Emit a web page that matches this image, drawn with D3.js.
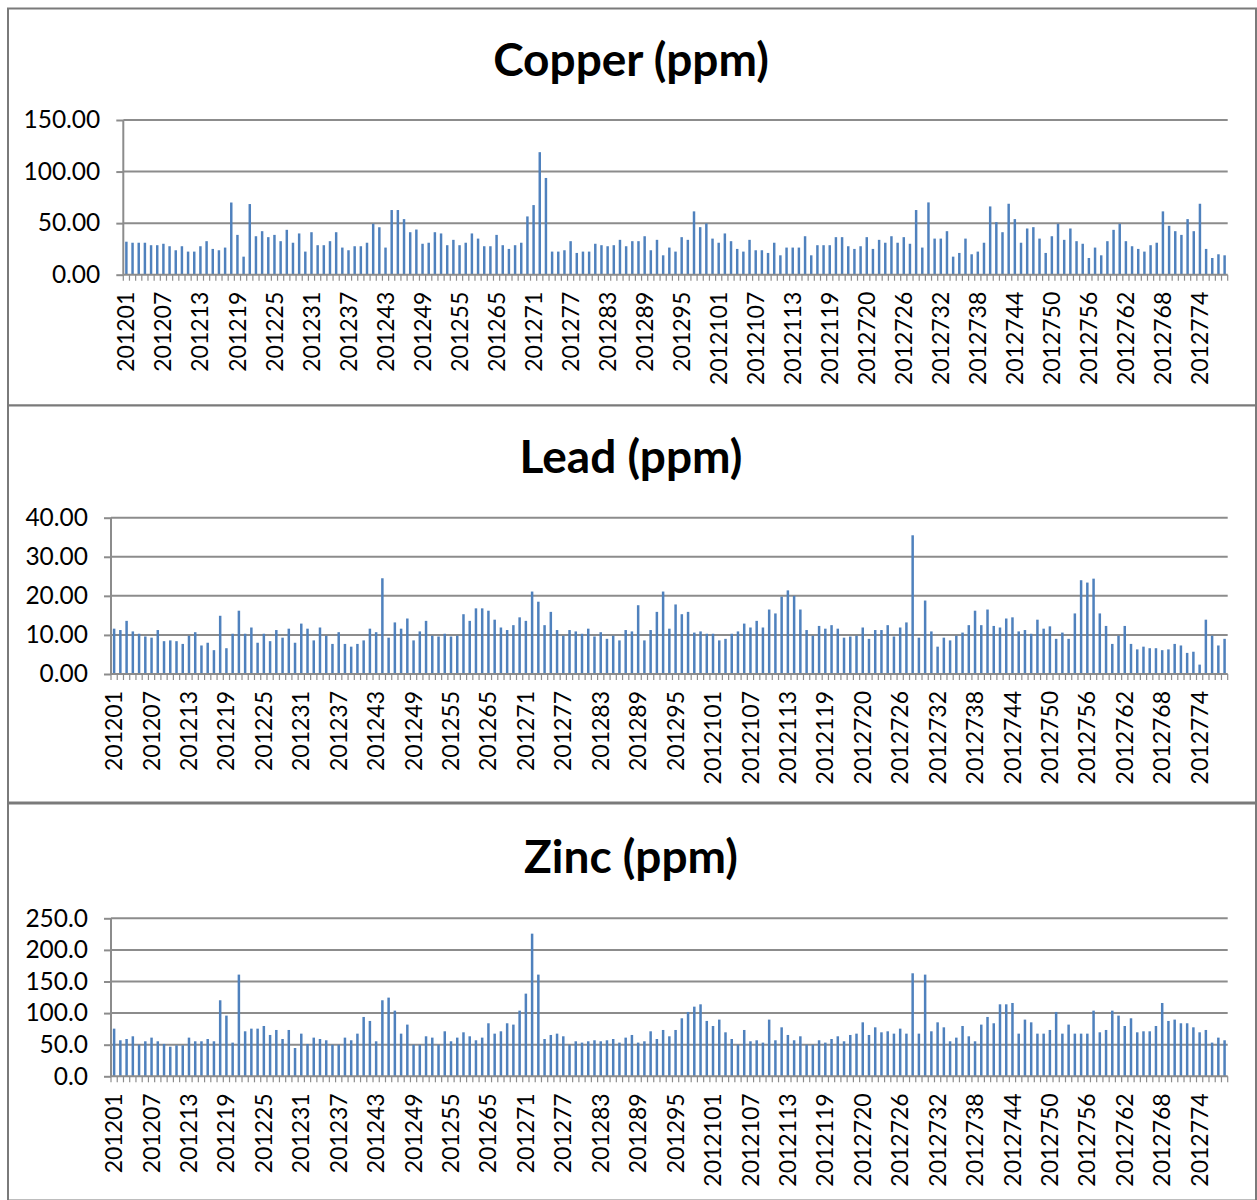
<!DOCTYPE html>
<html><head><meta charset="utf-8">
<script src="https://cdn.jsdelivr.net/npm/d3@7"></script>
<style>body{margin:0;background:#fff} svg{display:block}</style>
</head><body><svg id="c" width="1257" height="1200"></svg>
<script>
const categories = [
"201201","201202","201203","201204","201205","201206","201207","201208","201209","201210",
"201211","201212","201213","201214","201215","201216","201217","201218","201219","201220",
"201221","201222","201223","201224","201225","201226","201227","201228","201229","201230",
"201231","201232","201233","201234","201235","201236","201237","201238","201239","201240",
"201241","201242","201243","201244","201245","201246","201247","201248","201249","201250",
"201251","201252","201253","201254","201255","201256","201257","201258","201259","201260",
"201265","201266","201267","201268","201269","201270","201271","201272","201273","201274",
"201275","201276","201277","201278","201279","201280","201281","201282","201283","201284",
"201285","201286","201287","201288","201289","201290","201291","201292","201293","201294",
"201295","201296","201297","201298","201299","2012100","2012101","2012102","2012103","2012104",
"2012105","2012106","2012107","2012108","2012109","2012110","2012111","2012112","2012113","2012114",
"2012115","2012116","2012117","2012118","2012119","2012120","2012121","2012122","2012123","2012124",
"2012720","2012721","2012722","2012723","2012724","2012725","2012726","2012727","2012728","2012729",
"2012730","2012731","2012732","2012733","2012734","2012735","2012736","2012737","2012738","2012739",
"2012740","2012741","2012742","2012743","2012744","2012745","2012746","2012747","2012748","2012749",
"2012750","2012751","2012752","2012753","2012754","2012755","2012756","2012757","2012758","2012759",
"2012760","2012761","2012762","2012763","2012764","2012765","2012766","2012767","2012768","2012769",
"2012770","2012771","2012772","2012773","2012774","2012775","2012776","2012777","2012778"];

const copper = [
32,31,31,31,28.6,28.6,30,27.6,23.7,27.6,22.4,22.4,27.6,32.5,25,23.7,26.3,70,38.6,17.5,
68.5,37.3,42.2,36.4,38.6,32.5,43.5,31,40,22.4,41.2,28.6,28.6,32.5,41.2,26.3,23.7,27.6,27.6,31,
49.4,46,26.3,62.7,62.7,
53.9,41.2,43.8,30,31,41.2,40,28.6,33.8,28.6,31,40,35,27.6,27.6,38.6,28.6,25,28.6,31,
56.5,67.5,118.8,93.8,22.4,22.4,23.7,32.5,21.1,22.4,22.4,30,28.6,27.6,28.6,33.8,27.6,32.5,32.5,37.3,
23.7,33.8,18.8,26.3,22.4,36.4,
33.8,61.4,46.1,49.7,35,31,40,32.5,25,22.4,33.8,23.7,23.7,21.1,31,18.8,26.3,26.3,26.3,37.3,
18.8,28.6,28.6,28.6,36.4,36.4,27.6,25,27.6,36.4,25,33.8,31,37.3,31,36.4,30,62.7,26.3,70.1,
35,35,42.2,17.5,21.1,
35,19.8,22.4,31,66.2,51,41.2,68.8,53.9,31,44.8,46.1,35,21.1,37.3,49.4,33.8,44.8,32.5,30,
16.2,26.3,18.8,32.5,43.5,49.4,32.5,27.6,25,22.4,28.6,31,61.4,47.4,42.2,38.6,53.9,42.2,68.8,25,
16.2,19.8,18.8];

const lead = [
11.6,11.25,13.6,10.9,10.3,9.6,9.3,11.25,8.4,8.6,8.4,7.7,9.8,10.7,7.3,8.0,6.1,14.9,6.6,10.3,
16.2,10.3,11.9,8.0,10.3,8.4,11.25,9.3,11.6,8.0,12.9,11.6,8.6,11.9,9.8,7.7,10.7,7.7,7.0,7.7,
8.6,11.6,10.7,24.5,9.3,13.2,11.6,
14.2,8.6,10.9,13.6,9.8,9.6,10.3,9.6,9.8,15.3,13.6,16.8,16.8,16.2,13.9,11.9,11.25,12.5,14.5,13.6,
21.1,18.5,12.5,15.9,11.25,9.8,11.25,10.9,10.3,11.6,9.6,10.7,9.0,9.8,8.6,11.25,10.9,17.6,8.6,11.25,
15.9,21.1,11.6,17.8,
15.3,15.9,10.6,10.9,10.3,10.3,8.6,9.0,10.3,10.9,12.9,11.9,13.6,11.9,16.5,15.5,19.8,21.4,20.0,16.5,
11.25,9.8,12.3,11.6,12.5,11.6,9.3,9.6,9.8,11.9,9.0,11.25,11.25,12.5,9.6,11.9,13.2,35.5,9.3,18.8,
10.9,7.0,9.3,8.6,9.8,
10.6,12.5,16.2,12.5,16.5,12.3,11.9,14.2,14.5,10.9,11.25,10.3,13.9,11.6,12.2,9.0,10.6,9.0,15.5,24.0,
23.4,24.4,15.5,12.3,7.7,9.8,12.3,7.7,6.3,7.0,6.6,6.6,6.1,6.3,7.7,7.3,5.4,5.7,2.4,13.9,
9.8,7.3,9.0];

const zinc = [
75.4,57,59,63.3,50,55.4,61.2,55.4,51.2,46.9,49,49,61.2,55.4,55.4,59,55.4,120.3,96,53.3,
160.9,71.2,75.4,75.4,79.6,65.4,73.3,59,73.3,44.8,67.5,51.2,61.2,59,57,50,50,61.2,57,67.5,
93.9,87.6,55.4,120.3,124.5,103.9,67.5,
81.8,50,50,63.3,61.2,50,71.2,55.4,61.2,69.6,63.3,57,61.2,83.9,67.5,71.2,83.9,81.8,103.9,130.8,
225.7,160.9,59,65.4,67.5,63.3,50,55.4,53.3,55.4,57,55.4,57,59,53.3,61.2,65.4,53.3,55.4,71.2,
59,73.3,63.3,73.3,
91.8,101.8,110.2,113.9,87.6,79.6,89.7,69.6,59,50,73.3,55.4,57,53.3,89.7,57,77.5,65.4,57,63.3,
50,50,57,53.3,59,63.3,55.4,65.4,67.5,85.4,65.4,77.5,69.6,71.2,67.5,75.4,67.5,163,67.5,160.9,
71.2,85.4,77.5,55.4,61.2,
79.6,63.3,55.4,81.8,93.9,83.9,113.9,113.9,116,67.5,89.7,85.4,67.5,67.5,73.3,101.8,67.5,81.8,67.5,67.5,
67.5,103.9,69.6,73.3,103.9,96,79.6,91.8,69.6,71.2,71.2,79.6,116,87.6,89.7,83.9,83.9,77.5,69.6,73.3,
53.3,61.2,57];

const titles = ["Copper (ppm)", "Lead (ppm)", "Zinc (ppm)"];
const copperTicks = [0, 50, 100, 150];
const leadTicks = [0, 10, 20, 30, 40];
const zincTicks = [0, 50, 100, 150, 200, 250];
const labelEvery = 6;

const svg = d3.select("#c");
const FONT = "Lato, 'Open Sans', sans-serif";
const BAR = "#4F81BD";
const GRID = "#8c8c8c";

const panels = [
  {title: titles[0], data: copper, ticks: copperTicks, fmt: d3.format(".2f"), top: 8,   x0: 123.3, x1: 1227.7, yTop: 120,   yZero: 274.7,  titleY: 76},
  {title: titles[1], data: lead,   ticks: leadTicks,   fmt: d3.format(".2f"), top: 405, x0: 111,   x1: 1227.7, yTop: 517.7, yZero: 674,    titleY: 473},
  {title: titles[2], data: zinc,   ticks: zincTicks,   fmt: d3.format(".1f"), top: 803, x0: 111,   x1: 1227.7, yTop: 918.3, yZero: 1076.3, titleY: 873}
];

// panel borders
panels.forEach(p => {
  svg.append("rect").attr("x", 8).attr("y", p.top + 0.5).attr("width", 1248).attr("height", 397)
    .attr("fill", "#fff").attr("stroke", "#7a7a7a").attr("stroke-width", 2);
});

panels.forEach(p => {
  const g = svg.append("g");
  const xb = d3.scaleBand().domain(categories).range([p.x0, p.x1]);
  const y = d3.scaleLinear().domain([0, d3.max(p.ticks)]).range([p.yZero, p.yTop]);

  // gridlines + y ticks
  const ya = g.append("g").attr("transform", `translate(${p.x0},0)`)
    .call(d3.axisLeft(y).tickValues(p.ticks).tickFormat(p.fmt).tickSize(7).tickPadding(16));
  ya.select(".domain").attr("stroke", GRID).attr("stroke-width", 2).attr("d", `M0,${p.yTop}V${p.yZero}`);
  ya.selectAll(".tick line").attr("stroke", GRID).attr("stroke-width", 2);
  ya.selectAll(".tick text").attr("font-family", FONT).attr("font-size", 24.5).attr("fill", "#000");
  g.append("g").selectAll("line").data(p.ticks.filter(t => t > 0)).join("line")
    .attr("x1", p.x0).attr("x2", p.x1).attr("y1", d => y(d)).attr("y2", d => y(d))
    .attr("stroke", GRID).attr("stroke-width", 2);

  // bars
  g.append("g").selectAll("rect").data(p.data).join("rect")
    .attr("x", (d, i) => xb(categories[i]) + xb.bandwidth() * 0.3)
    .attr("width", xb.bandwidth() * 0.4)
    .attr("y", d => y(d)).attr("height", d => p.yZero - y(d))
    .attr("fill", BAR);

  // x axis line and boundary ticks
  g.append("line").attr("x1", p.x0).attr("x2", p.x1).attr("y1", p.yZero).attr("y2", p.yZero)
    .attr("stroke", GRID).attr("stroke-width", 2);
  const bounds = categories.map(c => xb(c)).concat([p.x1]);
  g.append("g").selectAll("line").data(bounds).join("line")
    .attr("x1", d => d).attr("x2", d => d).attr("y1", p.yZero).attr("y2", p.yZero + 6)
    .attr("stroke", GRID).attr("stroke-width", 1.2);

  // category labels
  g.append("g").selectAll("text").data(categories.filter((c, i) => i % labelEvery === 0)).join("text")
    .attr("transform", c => `translate(${xb(c) + xb.bandwidth() / 2},${p.yZero + 17}) rotate(-90)`)
    .attr("text-anchor", "end").attr("dy", "0.35em")
    .attr("font-family", FONT).attr("font-size", 23).attr("fill", "#000")
    .text(c => c);

  // title
  g.append("text").attr("x", 631).attr("y", p.titleY).attr("text-anchor", "middle")
    .attr("font-family", FONT).attr("font-weight", "bold").attr("font-size", 46).attr("fill", "#000")
    .text(p.title);
});
</script></body></html>
